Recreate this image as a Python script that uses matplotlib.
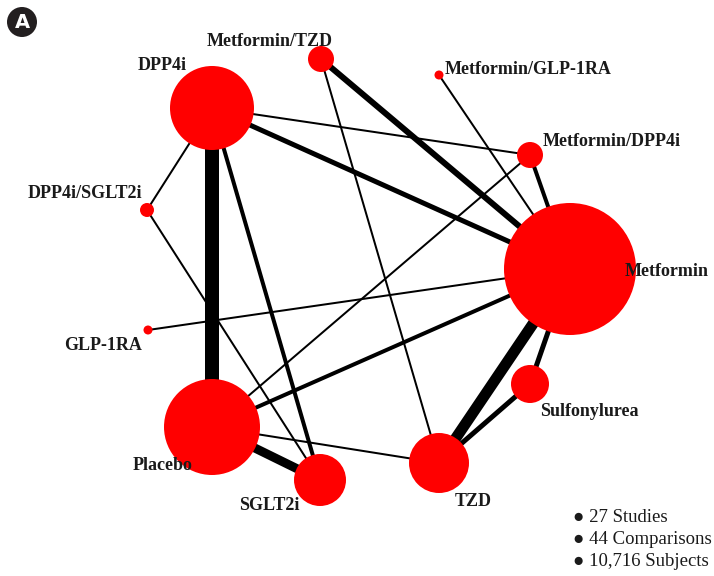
import matplotlib
matplotlib.use("Agg")
import matplotlib.pyplot as plt
from matplotlib.patches import Circle

# treatments (nodes) and their position in the network layout
treatments = ["DPP4i", "Metformin/TZD", "Metformin/GLP-1RA", "Metformin/DPP4i",
              "Metformin", "Sulfonylurea", "TZD", "SGLT2i", "Placebo",
              "GLP-1RA", "DPP4i/SGLT2i"]
node_x = [212, 321, 439, 530, 570, 530, 439, 320, 212, 148, 147]
node_y = [108, 59, 75, 155, 269, 384, 463, 480, 427, 330, 210]
# node radius ~ number of subjects
node_r = [42, 13, 4.5, 13, 66, 19, 30, 26, 48, 4.5, 7]

# direct comparisons: (a, b, relative number of studies)
edge_a = ["DPP4i", "DPP4i", "DPP4i", "DPP4i", "DPP4i", "DPP4i/SGLT2i",
          "Metformin/TZD", "Metformin/TZD", "Metformin/GLP-1RA", "Metformin/DPP4i",
          "Metformin/DPP4i", "Metformin", "Metformin", "Metformin", "Metformin",
          "Sulfonylurea", "Placebo", "Placebo"]
edge_b = ["Placebo", "SGLT2i", "Metformin", "Metformin/DPP4i", "DPP4i/SGLT2i", "SGLT2i",
          "Metformin", "TZD", "Metformin", "Metformin",
          "Placebo", "GLP-1RA", "Placebo", "TZD", "Sulfonylurea",
          "TZD", "SGLT2i", "TZD"]
edge_w = [7, 2, 2.5, 1, 1, 1,
          3, 1, 1, 2,
          1, 1, 2, 5.5, 2.5,
          2.5, 4.5, 1]

# label offsets in pixels (dx, dy with y down) and horizontal alignment
label_dx = [-25, 12, 6, 13, 55, 10, 16, -20, -19, -6, -5]
label_dy = [-43, -18, -6, -13, 2, 28, 39, 25, 39, 15, -17]
label_ha = ["right", "right", "left", "left", "left", "left", "left",
            "right", "right", "right", "right"]

summary = ["27 Studies", "44 Comparisons", "10,716 Subjects"]

W, H = 714, 576
fig = plt.figure(figsize=(W / 100, H / 100), dpi=100)
ax = fig.add_axes([0, 0, 1, 1])
ax.set_xlim(0, W)
ax.set_ylim(H, 0)
ax.set_aspect("equal")
ax.axis("off")

idx = {t: i for i, t in enumerate(treatments)}
px2pt = 72 / 100

for a, b, w in zip(edge_a, edge_b, edge_w):
    i, j = idx[a], idx[b]
    ax.plot([node_x[i], node_x[j]], [node_y[i], node_y[j]], color="black",
            lw=w * 2 * px2pt, solid_capstyle="butt", zorder=1)

for t, x, y, r, dx, dy, ha in zip(treatments, node_x, node_y, node_r,
                                  label_dx, label_dy, label_ha):
    ax.add_patch(Circle((x, y), r, color="#ff0000", lw=0, zorder=2))
    ax.annotate(t, (x, y), xytext=(dx, -dy), textcoords="offset pixels",
                ha=ha, va="center", fontsize=13, fontweight="bold",
                family="Liberation Serif", color="#1a1a1a", zorder=3)

for k, s in enumerate(summary):
    ax.text(573, 517 + k * 22, "\u25cf " + s, fontsize=13.5,
            family="Liberation Serif", color="#1a1a1a", va="center", ha="left")

# panel badge
ax.add_patch(Circle((22, 22), 15, color="#231f20", lw=0, zorder=4))
ax.text(22, 23, "A", color="white", fontsize=14, fontweight="bold",
        family="DejaVu Sans", ha="center", va="center", zorder=5)

fig.savefig("out.png", dpi=100)
